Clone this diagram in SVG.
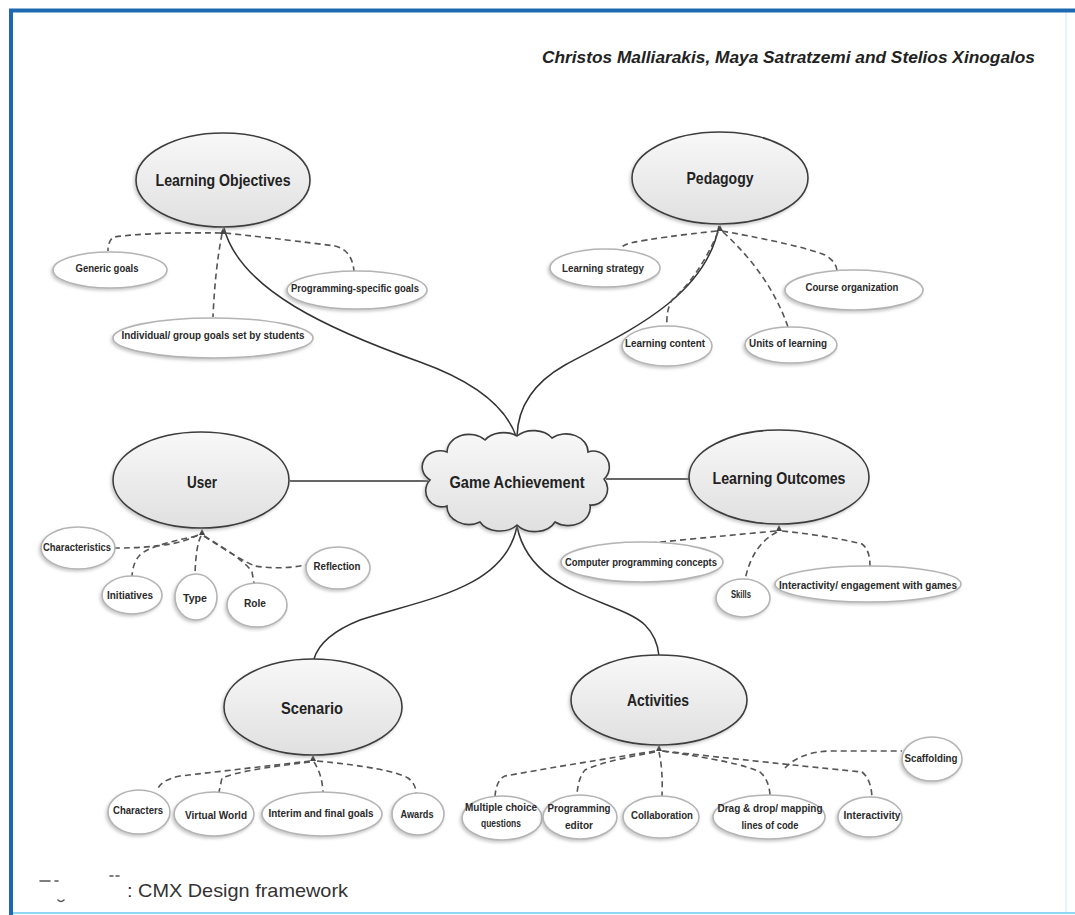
<svg xmlns="http://www.w3.org/2000/svg" width="1075" height="915" viewBox="0 0 1075 915">
  <defs>
    <linearGradient id="gMain" x1="0" y1="0" x2="0" y2="1">
      <stop offset="0" stop-color="#f8f8f8"/>
      <stop offset="1" stop-color="#e0e0e0"/>
    </linearGradient>
    <filter id="shadow" x="-20%" y="-30%" width="140%" height="170%">
      <feDropShadow dx="-1.5" dy="2" stdDeviation="1.5" flood-color="#8c8c8c" flood-opacity="0.45"/>
    </filter>
    <style>
      .main { fill: url(#gMain); stroke: #3c3c3c; stroke-width: 1.6; filter: url(#shadow); }
      .sub { fill: #ffffff; stroke: #b4b4b4; stroke-width: 1.6; filter: url(#shadow); }
      .lbl { font-family: "Liberation Sans Narrow", "Liberation Sans", Arial, sans-serif; font-weight: bold; font-size: 17px; fill: #222; text-anchor: middle; }
      .sm { font-family: "Liberation Sans Narrow", "Liberation Sans", Arial, sans-serif; font-weight: bold; font-size: 11px; fill: #2a2a2a; text-anchor: middle; }
      .solid { fill: none; stroke: #333; stroke-width: 1.5; }
      .dash { fill: none; stroke: #555; stroke-width: 1.6; stroke-dasharray: 6 4; }
      .tip { fill: #444; }
      .frag { fill: none; stroke: #555; stroke-width: 1.6; stroke-linecap: round; }
    </style>
  </defs>

  <!-- page frame -->
  <rect x="0" y="0" width="1075" height="915" fill="#ffffff"/>
  <line x1="1066" y1="12" x2="1066" y2="912" stroke="#e6f5fb" stroke-width="2"/>
  <line x1="10" y1="913" x2="1075" y2="913" stroke="#8fd6f2" stroke-width="2"/>
  <path d="M11,915 L11,10.5 L1075,10.5" fill="none" stroke="#1d68b1" stroke-width="4"/>

  <!-- author line -->
  <text x="542" y="63" textLength="493" lengthAdjust="spacingAndGlyphs" font-family="'Liberation Sans Narrow', 'Liberation Sans', Arial, sans-serif" font-weight="bold" font-style="italic" font-size="17" fill="#222">Christos Malliarakis, Maya Satratzemi and Stelios Xinogalos</text>

  <!-- connectors -->
  <g id="connectors">
    <!-- main links to the central cloud -->
    <path class="solid" d="M224,228 C240,290 330,330 420,362 C470,380 505,405 516,436"/>
    <path class="solid" d="M719,226 C705,300 620,335 565,365 C535,382 518,405 517,436"/>
    <path class="solid" d="M290,481 L428,481"/>
    <path class="solid" d="M606,479 L692,479"/>
    <path class="solid" d="M517,526 C505,590 420,600 360,620 C330,632 318,645 314,659"/>
    <path class="solid" d="M517,526 C530,595 620,600 645,625 C655,635 658,645 659,656"/>

    <!-- Learning Objectives branches -->
    <path class="dash" d="M221,233 Q150,232 114,237 Q108,240 108,251"/>
    <path class="dash" d="M225,233 Q290,240 335,246 Q352,250 354,271"/>
    <path class="dash" d="M222,234 Q215,270 213,317"/>
    <polygon class="tip" points="223,228 220,234 226,234"/>

    <!-- Pedagogy branches -->
    <path class="dash" d="M717,231 Q660,237 630,243 Q620,246 620,251"/>
    <path class="dash" d="M722,231 Q800,245 825,255 Q837,262 837,272"/>
    <path class="dash" d="M718,232 Q700,275 672,300 Q666,310 667,326"/>
    <path class="dash" d="M723,232 Q770,275 788,327"/>
    <polygon class="tip" points="720,225 717,231 723,231"/>

    <!-- User branches -->
    <path class="dash" d="M198,535 Q175,548 115,548"/>
    <path class="dash" d="M197,536 Q150,545 140,555 Q133,562 132,576"/>
    <path class="dash" d="M201,536 Q196,545 195,574"/>
    <path class="dash" d="M204,536 Q240,560 255,566 Q280,570 306,565"/>
    <path class="dash" d="M204,536 Q245,560 252,572 L254,583"/>
    <polygon class="tip" points="202,529 199,535 205,535"/>

    <!-- Learning Outcomes branches -->
    <path class="dash" d="M776,531 Q700,538 632,545 Q620,548 618,556"/>
    <path class="dash" d="M777,532 Q752,545 745,580"/>
    <path class="dash" d="M782,531 Q830,536 862,544 Q870,550 870,566"/>
    <polygon class="tip" points="779,525 776,531 782,531"/>

    <!-- Scenario branches -->
    <path class="dash" d="M310,761 Q250,768 180,776 Q160,780 157,791"/>
    <path class="dash" d="M310,762 Q240,770 222,778 L219,792"/>
    <path class="dash" d="M314,762 Q322,774 323,792"/>
    <path class="dash" d="M317,761 Q390,768 408,778 Q416,784 416,793"/>
    <polygon class="tip" points="313,755 310,761 316,761"/>

    <!-- Activities branches -->
    <path class="dash" d="M655,751 Q560,766 505,776 Q496,780 495,797"/>
    <path class="dash" d="M655,752 Q600,762 585,770 Q578,778 577,795"/>
    <path class="dash" d="M659,752 Q663,770 662,796"/>
    <path class="dash" d="M662,751 Q740,762 760,772 Q769,780 770,795"/>
    <path class="dash" d="M663,751 Q800,766 862,772 Q871,779 872,797"/>
    <path class="dash" d="M785,768 Q800,752 830,751 L902,751"/>
    <polygon class="tip" points="659,745 656,751 662,751"/>
  </g>

  <!-- central node -->
  <g id="game-achievement">
    <path class="main" d="M430,480 A18,16 0 0 1 447,452 A22,18 0 0 1 485,440 A22,16 0 0 1 517,436 A22,16 0 0 1 552,438 A22,18 0 0 1 588,452 A16,16 0 0 1 604,479 A16,16 0 0 1 590,505 A22,18 0 0 1 555,522 A22,16 0 0 1 517,525 A22,16 0 0 1 480,522 A22,18 0 0 1 447,506 A16,16 0 0 1 430,480 Z"/>
    <text class="lbl" x="517" y="488" textLength="135" lengthAdjust="spacingAndGlyphs">Game Achievement</text>
  </g>

  <!-- main concepts -->
  <g id="learning-objectives">
    <ellipse class="main" cx="223" cy="180" rx="87" ry="47"/>
    <text class="lbl" x="223" y="186" textLength="135" lengthAdjust="spacingAndGlyphs">Learning Objectives</text>
  </g>
  <g id="pedagogy">
    <ellipse class="main" cx="720" cy="178" rx="88" ry="46"/>
    <text class="lbl" x="720" y="184" textLength="67" lengthAdjust="spacingAndGlyphs">Pedagogy</text>
  </g>
  <g id="user">
    <ellipse class="main" cx="201" cy="480" rx="88" ry="48"/>
    <text class="lbl" x="202" y="488" textLength="30" lengthAdjust="spacingAndGlyphs">User</text>
  </g>
  <g id="learning-outcomes">
    <ellipse class="main" cx="779" cy="477" rx="90" ry="47"/>
    <text class="lbl" x="779" y="484" textLength="133" lengthAdjust="spacingAndGlyphs">Learning Outcomes</text>
  </g>
  <g id="scenario">
    <ellipse class="main" cx="313" cy="707" rx="89" ry="48"/>
    <text class="lbl" x="312" y="714" textLength="62" lengthAdjust="spacingAndGlyphs">Scenario</text>
  </g>
  <g id="activities">
    <ellipse class="main" cx="659" cy="700" rx="88" ry="45"/>
    <text class="lbl" x="658" y="706" textLength="62" lengthAdjust="spacingAndGlyphs">Activities</text>
  </g>

  <!-- Learning Objectives items -->
  <g id="generic-goals">
    <ellipse class="sub" cx="110" cy="270" rx="57" ry="18"/>
    <text class="sm" x="107" y="272" textLength="63" lengthAdjust="spacingAndGlyphs">Generic goals</text>
  </g>
  <g id="programming-specific-goals">
    <ellipse class="sub" cx="357" cy="290" rx="70" ry="19"/>
    <text class="sm" x="355" y="292" textLength="128" lengthAdjust="spacingAndGlyphs">Programming-specific goals</text>
  </g>
  <g id="individual-group-goals">
    <ellipse class="sub" cx="213" cy="338" rx="100" ry="20"/>
    <text class="sm" x="213" y="339" textLength="183" lengthAdjust="spacingAndGlyphs">Individual/ group goals set by students</text>
  </g>

  <!-- Pedagogy items -->
  <g id="learning-strategy">
    <ellipse class="sub" cx="605" cy="268" rx="55" ry="19"/>
    <text class="sm" x="603" y="272" textLength="82" lengthAdjust="spacingAndGlyphs">Learning strategy</text>
  </g>
  <g id="course-organization">
    <ellipse class="sub" cx="854" cy="290" rx="69" ry="20"/>
    <text class="sm" x="852" y="291" textLength="93" lengthAdjust="spacingAndGlyphs">Course organization</text>
  </g>
  <g id="learning-content">
    <ellipse class="sub" cx="667" cy="346" rx="45" ry="20"/>
    <text class="sm" x="665" y="347" textLength="80" lengthAdjust="spacingAndGlyphs">Learning content</text>
  </g>
  <g id="units-of-learning">
    <ellipse class="sub" cx="791" cy="345" rx="46" ry="18"/>
    <text class="sm" x="788" y="347" textLength="78" lengthAdjust="spacingAndGlyphs">Units of learning</text>
  </g>

  <!-- User items -->
  <g id="characteristics">
    <ellipse class="sub" cx="78" cy="548" rx="37" ry="21"/>
    <text class="sm" x="77" y="551" textLength="68" lengthAdjust="spacingAndGlyphs">Characteristics</text>
  </g>
  <g id="initiatives">
    <ellipse class="sub" cx="132" cy="595" rx="30" ry="19"/>
    <text class="sm" x="130" y="599" textLength="46" lengthAdjust="spacingAndGlyphs">Initiatives</text>
  </g>
  <g id="type">
    <ellipse class="sub" cx="196" cy="597" rx="21" ry="23"/>
    <text class="sm" x="195" y="602" textLength="24" lengthAdjust="spacingAndGlyphs">Type</text>
  </g>
  <g id="role">
    <ellipse class="sub" cx="257" cy="605" rx="30" ry="22"/>
    <text class="sm" x="255" y="607" textLength="22" lengthAdjust="spacingAndGlyphs">Role</text>
  </g>
  <g id="reflection">
    <ellipse class="sub" cx="338" cy="568" rx="32" ry="21"/>
    <text class="sm" x="337" y="570" textLength="47" lengthAdjust="spacingAndGlyphs">Reflection</text>
  </g>

  <!-- Learning Outcomes items -->
  <g id="programming-concepts">
    <ellipse class="sub" cx="642" cy="562" rx="81" ry="20"/>
    <text class="sm" x="641" y="566" textLength="152" lengthAdjust="spacingAndGlyphs">Computer programming concepts</text>
  </g>
  <g id="skills">
    <ellipse class="sub" cx="743" cy="598" rx="27" ry="19"/>
    <text class="sm" x="741" y="598" textLength="20" lengthAdjust="spacingAndGlyphs">Skills</text>
  </g>
  <g id="engagement">
    <ellipse class="sub" cx="868" cy="584" rx="93" ry="18"/>
    <text class="sm" x="868" y="589" textLength="178" lengthAdjust="spacingAndGlyphs">Interactivity/ engagement with games</text>
  </g>

  <!-- Scenario items -->
  <g id="characters">
    <ellipse class="sub" cx="139" cy="812" rx="31" ry="22"/>
    <text class="sm" x="138" y="814" textLength="50" lengthAdjust="spacingAndGlyphs">Characters</text>
  </g>
  <g id="virtual-world">
    <ellipse class="sub" cx="214" cy="814" rx="40" ry="22"/>
    <text class="sm" x="216" y="819" textLength="62" lengthAdjust="spacingAndGlyphs">Virtual World</text>
  </g>
  <g id="interim-final-goals">
    <ellipse class="sub" cx="322" cy="814" rx="60" ry="22"/>
    <text class="sm" x="321" y="817" textLength="105" lengthAdjust="spacingAndGlyphs">Interim and final goals</text>
  </g>
  <g id="awards">
    <ellipse class="sub" cx="418" cy="814" rx="26" ry="21"/>
    <text class="sm" x="417" y="818" textLength="33" lengthAdjust="spacingAndGlyphs">Awards</text>
  </g>

  <!-- Activities items -->
  <g id="multiple-choice">
    <ellipse class="sub" cx="502" cy="818" rx="40" ry="22"/>
    <text class="sm" x="501" y="811" textLength="72" lengthAdjust="spacingAndGlyphs">Multiple choice</text>
    <text class="sm" x="501" y="827" textLength="40" lengthAdjust="spacingAndGlyphs">questions</text>
  </g>
  <g id="programming-editor">
    <ellipse class="sub" cx="580" cy="817" rx="37" ry="22"/>
    <text class="sm" x="579" y="812" textLength="63" lengthAdjust="spacingAndGlyphs">Programming</text>
    <text class="sm" x="579" y="829" textLength="28" lengthAdjust="spacingAndGlyphs">editor</text>
  </g>
  <g id="collaboration">
    <ellipse class="sub" cx="661" cy="817" rx="38" ry="21"/>
    <text class="sm" x="662" y="819" textLength="62" lengthAdjust="spacingAndGlyphs">Collaboration</text>
  </g>
  <g id="drag-drop">
    <ellipse class="sub" cx="769" cy="817" rx="56" ry="22"/>
    <text class="sm" x="770" y="812" textLength="105" lengthAdjust="spacingAndGlyphs">Drag &amp; drop/ mapping</text>
    <text class="sm" x="770" y="829" textLength="57" lengthAdjust="spacingAndGlyphs">lines of code</text>
  </g>
  <g id="interactivity">
    <ellipse class="sub" cx="870" cy="817" rx="32" ry="20"/>
    <text class="sm" x="872" y="819" textLength="57" lengthAdjust="spacingAndGlyphs">Interactivity</text>
  </g>
  <g id="scaffolding">
    <ellipse class="sub" cx="932" cy="759" rx="30" ry="22"/>
    <text class="sm" x="931" y="762" textLength="53" lengthAdjust="spacingAndGlyphs">Scaffolding</text>
  </g>

  <!-- caption, with the worn marks left of it -->
  <g id="caption">
    <path class="frag" d="M40,881 L50,881 M55,881 L58,881 M58,900 Q61,903 64,900 M110,876 L113,876 M116,876 L119,876"/>
    <text x="127" y="897" font-family="'Liberation Sans', Arial, sans-serif" font-size="19" fill="#333" textLength="221" lengthAdjust="spacingAndGlyphs">: CMX Design framework</text>
  </g>
</svg>
